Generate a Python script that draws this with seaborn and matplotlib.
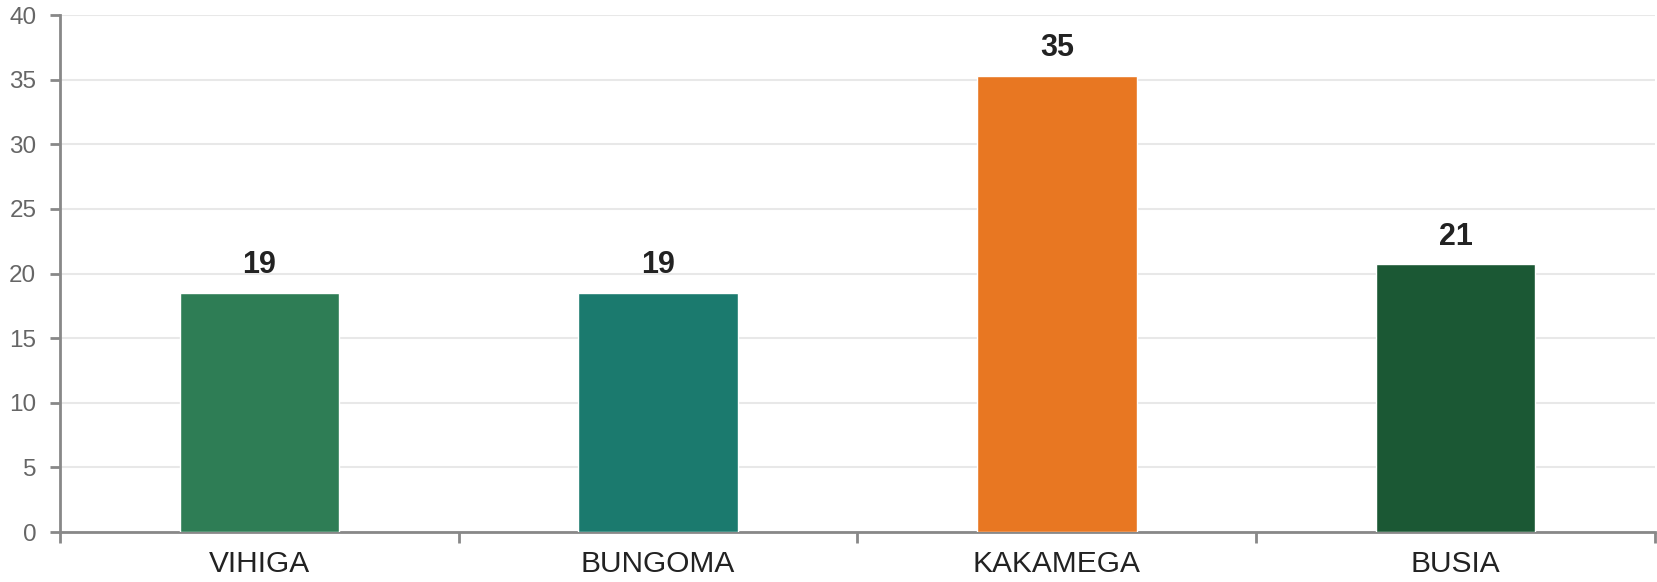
import matplotlib
matplotlib.use("Agg")
import matplotlib.pyplot as plt
import seaborn as sns
import pandas as pd

counties = ["VIHIGA", "BUNGOMA", "KAKAMEGA", "BUSIA"]
values = [18.5, 18.5, 35.3, 20.7]
value_labels = ["19", "19", "35", "21"]
colors = ["#2e7d55", "#1b7a6e", "#e87722", "#1b5834"]
y_ticks = [0, 5, 10, 15, 20, 25, 30, 35, 40]

sns.set_style("white")
plt.rcParams['font.family'] = ['Liberation Sans', 'DejaVu Sans']

df = pd.DataFrame({"county": counties, "value": values})

fig = plt.figure(figsize=(16.57, 5.82), dpi=100)
ax = fig.add_axes([0.0362, 0.0859, 0.9626, 0.8883])

sns.barplot(data=df, x="county", y="value", hue="county", palette=colors,
            width=0.4, saturation=1, legend=False, ax=ax, zorder=3)

ax.set_xlim(-0.5, len(counties) - 0.5)
ax.set_ylim(0, 40)
ax.set_yticks(y_ticks)
ax.yaxis.grid(True, color="#e8e8e8", linewidth=1.5, zorder=0)
ax.set_axisbelow(True)
ax.set_xlabel("")
ax.set_ylabel("")

for side in ["top", "right"]:
    ax.spines[side].set_visible(False)
for side in ["left", "bottom"]:
    ax.spines[side].set_color("#888888")
    ax.spines[side].set_linewidth(2)

# category ticks sit between the bars
ax.set_xticks([i - 0.5 for i in range(len(counties) + 1)], minor=True)
ax.tick_params(axis="x", which="both", bottom=True)
ax.tick_params(axis="y", which="both", left=True)
ax.tick_params(axis="x", which="major", length=0, pad=13, labelsize=21.5, labelcolor="#222222")
ax.tick_params(axis="x", which="minor", length=8, width=2, color="#888888", direction="out")
ax.tick_params(axis="y", length=7, width=2, color="#888888", direction="out", pad=10,
               labelsize=17.5, labelcolor="#666666")

for i, (v, lab) in enumerate(zip(values, value_labels)):
    ax.annotate(lab, xy=(i, v), xytext=(0, 9), textcoords="offset points",
                ha="center", va="bottom", fontsize=22, fontweight="bold", color="#222222")

fig.savefig("out.png", dpi=100)
